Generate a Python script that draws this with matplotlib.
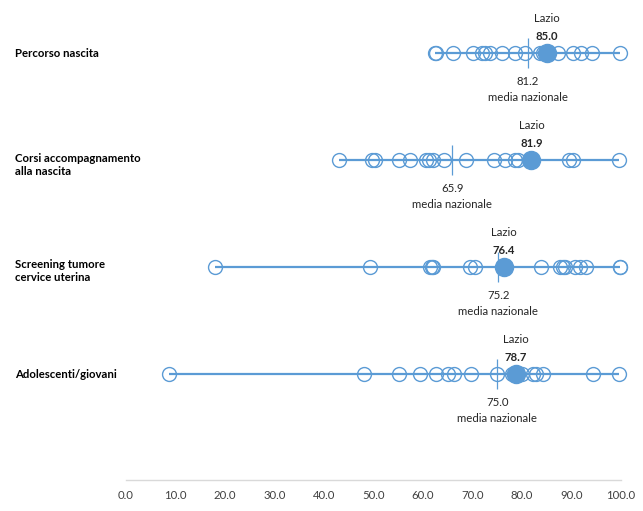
import matplotlib
matplotlib.use("Agg")
import matplotlib.pyplot as plt

plt.rcParams['font.family'] = ['Lato', 'DejaVu Sans']

categories = ["Percorso nascita", "Corsi accompagnamento\nalla nascita",
              "Screening tumore\ncervice uterina", "Adolescenti/giovani"]
regions_percorso = [62.5, 62.7, 66.1, 70.2, 71.9, 72.5, 73.5, 75.9, 78.6, 80.6, 83.6,
                    84.2, 87.3, 90.4, 92.0, 94.1, 99.8]
regions_corsi = [43.0, 49.6, 50.3, 55.2, 57.4, 60.6, 61.3, 62.0, 64.3, 68.6, 74.4,
                 76.6, 78.6, 79.1, 89.4, 90.4, 99.5]
regions_screening = [18.0, 49.3, 61.4, 61.8, 62.1, 69.5, 70.5, 83.8, 87.7, 88.3,
                     88.7, 90.7, 91.7, 92.9, 99.7, 99.8]
regions_adolescenti = [8.7, 48.1, 55.2, 59.4, 62.6, 65.1, 66.3, 69.6, 74.9, 77.9,
                       78.3, 79.0, 79.9, 82.3, 82.9, 84.2, 94.4, 99.5]
lazio_values = [85.0, 81.9, 76.4, 78.7]
national_means = [81.2, 65.9, 75.2, 75.0]
tick_values = [0, 10, 20, 30, 40, 50, 60, 70, 80, 90, 100]

all_regions = [regions_percorso, regions_corsi, regions_screening, regions_adolescenti]

W, H = 643, 511
fig = plt.figure(figsize=(W / 100, H / 100), dpi=100)
ax = fig.add_axes([126 / W, (H - 480) / H, (621 - 126) / W, 480 / H])

blue = "#5B9BD5"
fs = 8.2
ypos = [4, 3, 2, 1]
for y, regs, lz, mn in zip(ypos, all_regions, lazio_values, national_means):
    vals = regs + [lz]
    ax.hlines(y, min(vals), max(vals), color=blue, lw=1.6, zorder=1)
    ax.plot(regs, [y] * len(regs), 'o', ms=10, mfc='none', mec=blue, mew=1.0,
            zorder=2, clip_on=False)
    ax.plot([lz], [y], 'o', ms=13, mfc=blue, mec=blue, zorder=3)
    ax.vlines(mn, y - 0.14, y + 0.14, color=blue, lw=0.9, zorder=4)
    ax.text(lz, y + 0.32, "Lazio", ha='center', va='center', fontsize=fs, color="#262626")
    ax.text(lz, y + 0.155, f"{lz:.1f}", ha='center', va='center', fontsize=fs,
            fontweight='bold', color="#262626")
    ax.text(mn, y - 0.265, f"{mn:.1f}", ha='center', va='center', fontsize=fs, color="#262626")
    ax.text(mn, y - 0.415, "media nazionale", ha='center', va='center', fontsize=fs,
            color="#262626")

ax.set_xlim(0, 100)
ax.set_ylim(1 - 106 / 107, 1 + 374 / 107)
ax.set_xticks(tick_values)
ax.set_xticklabels([f"{v:.1f}" for v in tick_values], fontsize=fs, color="#404040")
ax.tick_params(axis='x', length=0, pad=7)
ax.set_yticks([])
for s in ['top', 'left', 'right']:
    ax.spines[s].set_visible(False)
ax.spines['bottom'].set_color("#D9D9D9")
ax.spines['bottom'].set_linewidth(1.0)

row_px = [53, 161, 267, 374]
for cat, py, n in zip(categories, row_px, [1, 2, 2, 1]):
    off = 0 if n == 1 else 4
    fig.text(15 / W, (H - py - off) / H, cat, fontsize=fs, fontweight='bold',
             color="#000000", ha='left', va='center', linespacing=1.3)

fig.savefig("out.png", dpi=100)
